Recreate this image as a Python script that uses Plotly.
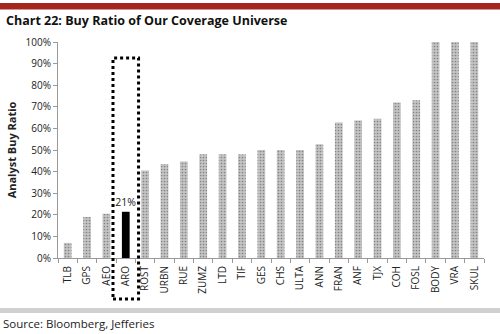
import plotly.graph_objects as go

# Buy ratio by ticker
tickers = ["TLB", "GPS", "AEO", "ARO", "ROST", "URBN", "RUE", "ZUMZ", "LTD", "TIF",
           "GES", "CHS", "ULTA", "ANN", "FRAN", "ANF", "TJX", "COH", "FOSL", "BODY",
           "VRA", "SKUL"]
buy_ratio = [0.07, 0.19, 0.205, 0.214, 0.405, 0.435, 0.447, 0.48, 0.48, 0.48,
             0.50, 0.50, 0.50, 0.527, 0.627, 0.637, 0.645, 0.72, 0.73, 1.0,
             1.0, 1.0]
highlight = "ARO"
y_ticks = [0, 0.1, 0.2, 0.3, 0.4, 0.5, 0.6, 0.7, 0.8, 0.9, 1.0]

colors = ["#000000" if t == highlight else "#c4c4c4" for t in tickers]
shapes_pat = ["" if t == highlight else "." for t in tickers]
labels = ["%{y:.0%}" if t == highlight else "" for t in tickers]

# plot area geometry in pixels (used to place paper-referenced decorations)
W, H = 500, 334
ML, MR, MT, MB = 58, 16, 42, 76
PW, PH = W - ML - MR, H - MT - MB


def px_x(x):
    return (x - ML) / PW


def px_y(y):
    return (H - MB - y) / PH


fig = go.Figure()
fig.add_trace(go.Bar(
    x=tickers, y=buy_ratio,
    marker=dict(color=colors, line_width=0,
                pattern=dict(shape=shapes_pat, fgcolor="#cdcdcd", bgcolor="#c0c0c0",
                             size=3, solidity=0.25)),
    texttemplate=labels, textposition="outside", cliponaxis=False,
    constraintext="none",
    textfont=dict(family="Open Sans", size=10.5, color="#222222"),
    width=0.4,
))

fig.update_layout(
    width=W, height=H,
    margin=dict(l=ML, r=MR, t=MT, b=MB),
    plot_bgcolor="white", paper_bgcolor="white",
    showlegend=False,
    font=dict(family="Open Sans", color="#222222"),
    xaxis=dict(
        type="category", tickangle=-90, tickson="boundaries",
        ticks="outside", ticklen=4, tickcolor="#999999",
        showline=True, linecolor="#999999", linewidth=1,
        tickfont=dict(family="Open Sans", size=10, color="#222222"),
        ticklabelstandoff=3,
        showgrid=False,
    ),
    yaxis=dict(
        range=[0, 1.0], tickvals=y_ticks, tickformat=".0%",
        ticks="outside", ticklen=4, tickcolor="#999999",
        showline=True, linecolor="#999999", linewidth=1,
        showgrid=False, zeroline=False,
        tickfont=dict(family="Open Sans", size=10, color="#222222"),
        title=dict(text="<b>Analyst Buy Ratio</b>", standoff=6,
                   font=dict(family="Open Sans", size=11, color="#222222")),
    ),
)

ix = tickers.index(highlight)
shapes = [
    # red header strip
    dict(type="rect", xref="paper", yref="paper", x0=px_x(0), x1=px_x(W),
         y0=px_y(9.5), y1=px_y(3), fillcolor="#a5261c", line_width=0, layer="above"),
    # grey footer band
    dict(type="rect", xref="paper", yref="paper", x0=px_x(0), x1=px_x(W),
         y0=px_y(313), y1=px_y(308), fillcolor="#d0d0d0", line_width=0),
    # dotted highlight box
    dict(type="rect", xref="x", yref="paper", x0=ix - 0.66, x1=ix + 0.66,
         y0=px_y(299), y1=px_y(58),
         line=dict(color="black", width=3, dash="dot"), fillcolor="rgba(0,0,0,0)"),
]
fig.update_layout(shapes=shapes)

fig.add_annotation(
    text="<b>Chart 22: Buy Ratio of Our Coverage Universe</b>",
    xref="paper", yref="paper", x=px_x(4), y=px_y(20),
    xanchor="left", yanchor="middle", showarrow=False,
    font=dict(family="Open Sans", size=12.5, color="#111111"),
)
fig.add_annotation(
    text="Source: Bloomberg, Jefferies",
    xref="paper", yref="paper", x=px_x(1), y=px_y(323),
    xanchor="left", yanchor="middle", showarrow=False,
    font=dict(family="Open Sans", size=11.5, color="#222222"),
)

fig.write_html("out.html")
